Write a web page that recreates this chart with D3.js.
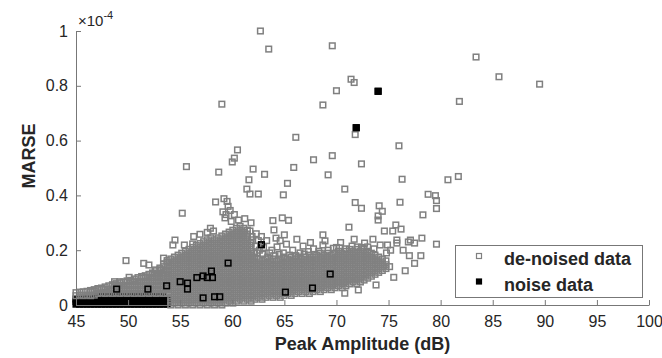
<!DOCTYPE html>
<html>
    <head>
		<meta charset= "utf-8">
		<script src= "https://cdn.jsdelivr.net/npm/d3@7"></script>
        <script>
            // values in units of 1e-4 (see the x10^-4 multiplier on the y axis)
            var xTicks = [45, 50, 55, 60, 65, 70, 75, 80, 85, 90, 95, 100];
            var yTicks = [0, 0.2, 0.4, 0.6, 0.8, 1];
            var yTickLabels = ["0", "0.2", "0.4", "0.6", "0.8", "1"];
            var seriesNames = ["de-noised data", "noise data"];

            // dense part of the de-noised cloud, read column by column: [x, y, y, ...]
            var denoisedCols = [
                [45.0, .034,.045], [45.35, .036,.047], [45.7, .034,.048], [46.05, .036,.05],
                [46.4, .034,.048,.053], [46.75, .036,.05,.056], [47.1, .042,.056,.06], [47.45, .044,.058,.062],
                [47.8, .042,.056,.066], [48.15, .044,.058,.07], [48.5, .042,.056,.07,.074],
                [48.85, .044,.058,.072,.078], [49.2, .042,.056,.07,.081], [49.55, .044,.058,.072,.084],
                [49.9, .042,.056,.07,.084,.088], [50.25, .044,.058,.072,.086,.09], [50.6, .042,.056,.07,.084,.095],
                [50.95, .044,.058,.072,.086,.1], [51.3, .042,.056,.07,.084,.098,.104],
                [51.65, .044,.058,.072,.086,.1,.107], [52.0, .042,.056,.07,.084,.098,.112],
                [52.35, .044,.058,.072,.086,.1,.114,.117], [52.7, .042,.056,.07,.084,.098,.112,.125],
                [53.05, .044,.058,.072,.086,.1,.114,.128,.135],
                [53.4, .042,.056,.07,.084,.098,.112,.126,.14,.148],
                [53.75, .044,.058,.072,.086,.1,.114,.128,.142,.156,.162],
                [54.1, 0,.014,.028,.042,.056,.07,.084,.098,.112,.126,.14,.154,.168],
                [54.45, .007,.021,.035,.049,.063,.077,.091,.105,.119,.133,.147,.161,.175],
                [54.8, 0,.014,.028,.042,.056,.07,.084,.098,.112,.126,.14,.154,.168,.182],
                [55.15, .007,.021,.035,.049,.063,.077,.091,.105,.119,.133,.147,.161,.175,.189],
                [55.5, 0,.014,.028,.042,.056,.07,.084,.098,.112,.126,.14,.154,.168,.182,.196],
                [55.85, .007,.021,.035,.049,.063,.077,.091,.105,.119,.133,.147,.161,.175,.189,.203],
                [56.2, 0,.014,.028,.042,.056,.07,.084,.098,.112,.126,.14,.154,.168,.182,.196,.21],
                [56.55, .007,.021,.035,.049,.063,.077,.091,.105,.119,.133,.147,.161,.175,.189,.203,.217],
                [56.9, 0,.014,.028,.042,.056,.07,.084,.098,.112,.126,.14,.154,.168,.182,.196,.21,.224],
                [57.25, .007,.021,.035,.049,.063,.077,.091,.105,.119,.133,.147,.161,.175,.189,.203,.217,.231],
                [57.6, 0,.014,.028,.042,.056,.07,.084,.098,.112,.126,.14,.154,.168,.182,.196,.21,.224,.238],
                [57.95, .007,.021,.035,.049,.063,.077,.091,.105,.119,.133,.147,.161,.175,.189,.203,.217,.231,.245],
                [58.3, 0,.014,.028,.042,.056,.07,.084,.098,.112,.126,.14,.154,.168,.182,.196,.21,.224,.238],
                [58.65, .007,.021,.035,.049,.063,.077,.091,.105,.119,.133,.147,.161,.175,.189,.203,.217,.231,.245],
                [59.0, 0,.014,.028,.042,.056,.07,.084,.098,.112,.126,.14,.154,.168,.182,.196,.21,.224,.238,.252],
                [59.35, .007,.021,.035,.049,.063,.077,.091,.105,.119,.133,.147,.161,.175,.189,.203,.217,.231,.245,.259],
                [59.7, .014,.028,.042,.056,.07,.084,.098,.112,.126,.14,.154,.168,.182,.196,.21,.224,.238,.252,.266],
                [60.05, .007,.021,.035,.049,.063,.077,.091,.105,.119,.133,.147,.161,.175,.189,.203,.217,.231,.245,.259,.273],
                [60.4, .014,.028,.042,.056,.07,.084,.098,.112,.126,.14,.154,.168,.182,.196,.21,.224,.238,.252,.266,.28],
                [60.75, .021,.035,.049,.063,.077,.091,.105,.119,.133,.147,.161,.175,.189,.203,.217,.231,.245,.259,.273,.287],
                [61.1, .014,.028,.042,.056,.07,.084,.098,.112,.126,.14,.154,.168,.182,.196,.21,.224,.238,.252,.266,.28],
                [61.45, .021,.035,.049,.063,.077,.091,.105,.119,.133,.147,.161,.175,.189,.203,.217,.231,.245,.259,.273],
                [61.8, .014,.028,.042,.056,.07,.084,.098,.112,.126,.14,.154,.168,.182,.196,.21,.224,.238],
                [62.15, .021,.035,.049,.063,.077,.091,.105,.119,.133,.147,.161,.175,.189],
                [62.5, .028,.042,.056,.07,.084,.098,.112,.126,.14,.154,.168],
                [62.85, .021,.035,.049,.063,.077,.091,.105,.119,.133,.147,.161],
                [63.2, .028,.042,.056,.07,.084,.098,.112,.126,.14,.154,.168],
                [63.55, .035,.049,.063,.077,.091,.105,.119,.133,.147,.161],
                [63.9, .028,.042,.056,.07,.084,.098,.112,.126,.14,.154,.168],
                [64.25, .035,.049,.063,.077,.091,.105,.119,.133,.147,.161],
                [64.6, .028,.042,.056,.07,.084,.098,.112,.126,.14,.154,.168],
                [64.95, .035,.049,.063,.077,.091,.105,.119,.133,.147,.161,.175],
                [65.3, .042,.056,.07,.084,.098,.112,.126,.14,.154,.168],
                [65.65, .035,.049,.063,.077,.091,.105,.119,.133,.147,.161,.175],
                [66.0, .042,.056,.07,.084,.098,.112,.126,.14,.154,.168],
                [66.35, .049,.063,.077,.091,.105,.119,.133,.147,.161,.175],
                [66.7, .042,.056,.07,.084,.098,.112,.126,.14,.154,.168],
                [67.05, .049,.063,.077,.091,.105,.119,.133,.147,.161,.175],
                [67.4, .042,.056,.07,.084,.098,.112,.126,.14,.154,.168,.182],
                [67.75, .049,.063,.077,.091,.105,.119,.133,.147,.161,.175],
                [68.1, .056,.07,.084,.098,.112,.126,.14,.154,.168,.182],
                [68.45, .049,.063,.077,.091,.105,.119,.133,.147,.161,.175,.189],
                [68.8, .056,.07,.084,.098,.112,.126,.14,.154,.168,.182],
                [69.15, .063,.077,.091,.105,.119,.133,.147,.161,.175,.189],
                [69.5, .056,.07,.084,.098,.112,.126,.14,.154,.168,.182],
                [69.85, .063,.077,.091,.105,.119,.133,.147,.161,.175,.189],
                [70.2, .07,.084,.098,.112,.126,.14,.154,.168,.182,.196],
                [70.55, .063,.077,.091,.105,.119,.133,.147,.161,.175,.189],
                [70.9, .07,.084,.098,.112,.126,.14,.154,.168,.182,.196],
                [71.25, .077,.091,.105,.119,.133,.147,.161,.175,.189,.203],
                [71.6, .084,.098,.112,.126,.14,.154,.168,.182,.196],
                [71.95, .077,.091,.105,.119,.133,.147,.161,.175,.189,.203],
                [72.3, .084,.098,.112,.126,.14,.154,.168,.182,.196],
                [72.65, .091,.105,.119,.133,.147,.161,.175,.189,.203],
                [73.0, .098,.112,.126,.14,.154,.168,.182,.196],
                [73.35, .105,.119,.133,.147,.161,.175,.189],
                [73.7, .112,.126,.14,.154,.168,.182],
                [74.05, .119,.133,.147,.161,.175],
                [74.4, .126,.14,.154,.168],
                [74.75, .133,.147,.161],
                [75.1, .14]
            ];

            // scattered de-noised points outside the dense cloud
            var denoisedPts = [
                [62.7,1.0],[63.5,.934],[59.0,.733],[69.6,.946],[71.4,.824],[71.7,.812],[70.0,.782],[68.7,.73],
                [66.1,.612],[71.8,.622],[83.4,.905],[85.6,.833],[89.5,.806],[81.8,.743],
                [76.0,.581],[69.6,.545],[67.8,.53],[72.4,.515],[65.9,.502],[62.0,.496],[63.1,.477],[69.2,.475],
                [76.3,.459],[80.7,.457],[81.7,.469],[65.3,.444],[70.8,.423],[64.9,.402],[62.5,.405],[61.7,.405],
                [61.4,.423],[61.6,.457],[78.8,.404],[79.5,.399],[79.6,.381],[76.1,.375],[71.8,.374],[72.4,.353],
                [79.6,.352],[74.1,.362],[74.4,.342],[74.0,.325],[74.0,.31],[78.3,.329],[71.2,.284],[75.7,.292],
                [74.6,.27],[75.4,.27],[76.2,.277],[63.9,.308],[64.8,.318],[65.4,.309],[64.0,.274],[65.0,.256],
                [62.8,.25],[64.2,.244],[66.2,.24],[68.7,.256],[71.7,.24],[75.8,.237],[77.1,.237],[78.2,.244],
                [60.5,.566],[60.2,.536],[60.0,.522],[55.6,.505],[58.7,.485],[58.4,.376],[55.2,.335],[54.5,.237],
                [68.9,.234],[68.7,.219],[69.7,.207],[70.3,.208],[72.0,.212],[72.7,.226],[73.0,.212],[74.2,.219],
                [74.9,.219],[75.8,.226],[76.9,.23],[77.5,.226],[79.6,.222],
                [78.1,.18],[77.5,.152],[76.6,.125],[75.5,.101],[73.8,.073],[72.1,.055],[70.8,.043],
                [48.7,.085],[49.2,.085],[50.1,.101],[49.8,.162],[51.5,.152],[52.0,.146],[53.4,.171],[52.6,.128],
                [53.1,.128],[54.3,.219],[55.4,.219],[56.2,.223],
                [59.1,.34],[59.4,.33],[59.3,.318],[59.8,.345],[60.2,.33],[59.6,.36],[59.9,.305],[60.6,.31],
                [59.2,.388],[59.5,.378],[57.9,.28],[57.6,.265],[58.2,.27],[56.9,.258],[56.3,.25],[61.2,.315],
                [61.8,.3],[62.4,.19],[62.9,.185],[63.6,.19],[63.8,.2],[64.5,.185],[65.8,.2],[66.5,.19],
                [67.3,.195],[67.8,.205],[62.3,.26],[63.3,.235],[64.6,.235],
                [61.9,.25],[62.2,.215],[62.6,.2],[63.0,.21],[61.7,.27],[62.5,.235],[63.4,.175],[64.1,.18],
                [64.9,.19],[65.5,.182],[66.1,.18],[66.9,.186],[68.3,.196],[69.2,.2],[70.0,.21],[70.9,.205],
                [71.5,.215],[72.4,.21],[73.6,.205],[64.3,.212],[65.2,.222],[66.8,.215],[67.5,.228],[70.4,.228],
                [73.5,.24],[76.4,.2],[77.0,.18],[75.2,.2],[74.8,.19]
            ];

            // solid block of noise points near the origin: [x, y, y, ...]
            var noiseCols = [
                [45.0, .003,.013,.022], [45.35, .003,.013,.022], [45.7, .003,.013,.022], [46.05, .003,.013,.022],
                [46.4, .003,.013,.022], [46.75, .003,.013,.024], [47.1, .003,.013,.023,.032],
                [47.45, .003,.013,.023,.032], [47.8, .003,.013,.023,.032], [48.15, .003,.013,.023,.032],
                [48.5, .003,.013,.023,.032], [48.85, .003,.013,.023,.032], [49.2, .003,.013,.023,.032],
                [49.55, .003,.013,.023,.032], [49.9, .003,.013,.023,.032], [50.25, .003,.013,.023,.032],
                [50.6, .003,.013,.023,.032], [50.95, .003,.013,.023,.032], [51.3, .003,.013,.023,.032],
                [51.65, .003,.013,.023,.032], [52.0, .003,.013,.023,.032], [52.35, .003,.013,.023,.032],
                [52.7, .003,.013,.023,.032], [53.05, .003,.013,.023,.032], [53.4, .003,.013,.023,.03],
                [53.75, .003,.013,.022]
            ];

            var noisePts = [
                [74.0,.78],[71.9,.647],[62.8,.22],[59.6,.153],[58.0,.124],[57.6,.1],[58.1,.1],[56.6,.1],
                [57.2,.106],[55.0,.085],[55.7,.08],[55.7,.058],[53.7,.07],[51.9,.058],[48.9,.058],
                [57.2,.026],[58.3,.03],[58.8,.03],[65.1,.047],[67.7,.062],[69.4,.113]
            ];

            function makeSVG() {
                var svg = d3.select("#fig");
                var font = "'Liberation Sans', Arial, Helvetica, sans-serif";
                var axisCol = "#777777";
                var textCol = "#262626";
                var ms = 5.6;

                var scX = d3.scaleLinear().domain([45, 100]).range([76, 649]);
                var scY = d3.scaleLinear().domain([0, 1]).range([305, 31]);

                var unfold = cols => cols.flatMap(c => c.slice(1).map(y => [c[0], y]));
                var denoised = unfold(denoisedCols).concat(denoisedPts);
                var noise = unfold(noiseCols).concat(noisePts);

                function squares(data, fill, stroke) {
                    svg.append("g")
                       .selectAll("rect").data(data)
                       .enter()
                       .append("rect")
                       .attr("x", d => scX(d[0]) - ms/2)
                       .attr("y", d => scY(d[1]) - ms/2)
                       .attr("width", ms)
                       .attr("height", ms)
                       .attr("fill", fill)
                       .attr("stroke", stroke)
                       .attr("stroke-width", 1.5);
                }

                // filled noise squares, de-noised cloud over them, then the noise edges again
                squares(noise, "black", "black");
                squares(denoised, "none", "#808080");
                squares(noisePts, "none", "black");

                // axes, ticks pointing inward
                var gx = svg.append("g")
                   .attr("transform", "translate(0," + scY(0) + ")")
                   .call(d3.axisBottom(scX).tickValues(xTicks).tickFormat(d3.format("d"))
                           .tickSizeInner(-5).tickSizeOuter(0).tickPadding(11));

                var gy = svg.append("g")
                   .attr("transform", "translate(" + scX(45) + ",0)")
                   .call(d3.axisLeft(scY).tickValues(yTicks).tickFormat((d, i) => yTickLabels[i])
                           .tickSizeInner(-5).tickSizeOuter(0).tickPadding(8));

                [gx, gy].forEach(g => {
                    g.select(".domain").attr("stroke", axisCol);
                    g.selectAll(".tick line").attr("stroke", axisCol);
                    g.selectAll(".tick text").attr("fill", textCol)
                     .style("font-family", font).style("font-size", "16px");
                });

                // multiplier
                var mult = svg.append("text")
                   .attr("x", 78).attr("y", 26)
                   .attr("fill", textCol)
                   .style("font-family", font).style("font-size", "15px");
                mult.append("tspan").text("\u00d710");
                mult.append("tspan").attr("dy", -7).style("font-size", "11px").text("-4");

                // axis labels
                svg.append("text")
                   .attr("x", (scX(45) + scX(100))/2).attr("y", 350)
                   .attr("text-anchor", "middle")
                   .attr("fill", textCol)
                   .style("font-family", font).style("font-size", "18px").style("font-weight", "bold")
                   .text("Peak Amplitude (dB)");

                svg.append("text")
                   .attr("transform", "translate(35,156) rotate(-90)")
                   .attr("text-anchor", "middle")
                   .attr("fill", textCol)
                   .style("font-family", font).style("font-size", "18px").style("font-weight", "bold")
                   .text("MARSE");

                // legend
                var lg = svg.append("g");
                lg.append("rect")
                  .attr("x", 455.5).attr("y", 245.5).attr("width", 187).attr("height", 52)
                  .attr("fill", "white").attr("stroke", axisCol).attr("stroke-width", 1);

                lg.selectAll(".mk").data(seriesNames)
                  .enter()
                  .append("rect")
                  .attr("x", 479 - 2.5)
                  .attr("y", (d, i) => 256 + i*25.5 - 2.5)
                  .attr("width", 5).attr("height", 5)
                  .attr("fill", (d, i) => i == 0 ? "none" : "black")
                  .attr("stroke", (d, i) => i == 0 ? "#808080" : "black")
                  .attr("stroke-width", 1.2);

                lg.selectAll("text").data(seriesNames)
                  .enter()
                  .append("text")
                  .attr("x", 504)
                  .attr("y", (d, i) => 265 + i*25.5)
                  .attr("fill", textCol)
                  .style("font-family", font).style("font-size", "18px").style("font-weight", "bold")
                  .text(d => d);
            }
        </script>
    </head>
    <body onload="makeSVG()" style="margin:0">

        <svg id="fig" width="662" height="358"></svg>

    </body>
</html>
